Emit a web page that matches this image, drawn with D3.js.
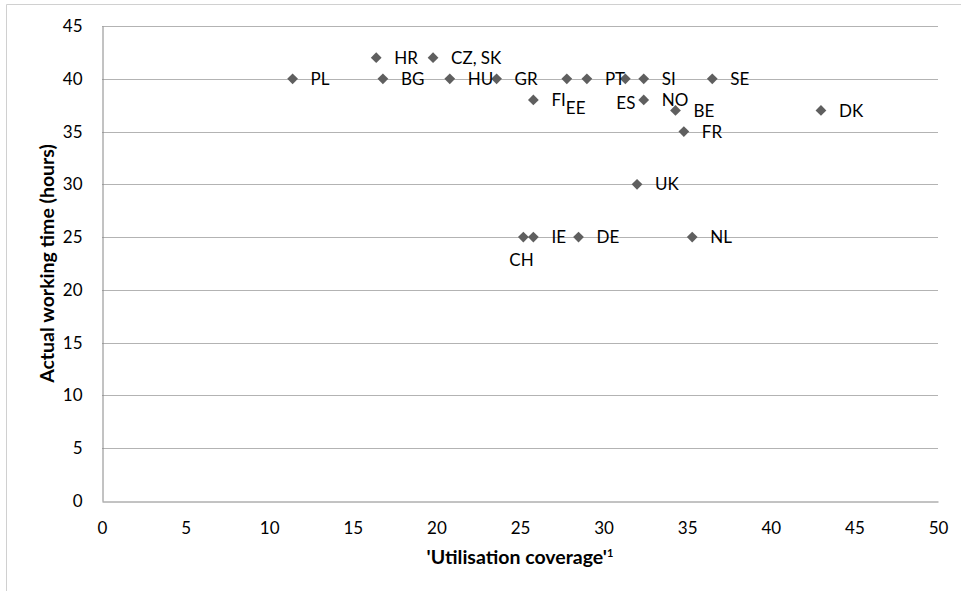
<!DOCTYPE html>
<html>
<head>
<meta charset="utf-8">
<script src="https://cdn.jsdelivr.net/npm/d3@7"></script>
<style>
  body { margin: 0; background: #fff; }
  svg { display: block; }
</style>
</head>
<body>
<svg id="chart" width="961" height="591"></svg>
<script>
// countries and their values
const countries = ["PL", "HR", "BG", "CZ, SK", "HU", "GR", "FI", "EE", "PT", "ES", "SI", "NO", "SE", "BE", "FR", "DK", "UK", "CH", "IE", "DE", "NL"];
const coverage = [11.4, 16.4, 16.8, 19.8, 20.8, 23.6, 25.8, 27.8, 29.0, 31.3, 32.4, 32.4, 36.5, 34.3, 34.8, 43.0, 32.0, 25.2, 25.8, 28.5, 35.3];
const hours = [40, 42, 40, 42, 40, 40, 38, 40, 40, 40, 40, 38, 40, 37, 35, 37, 30, 25, 25, 25, 25];
const xTicks = [0, 5, 10, 15, 20, 25, 30, 35, 40, 45, 50];
const yTicks = [0, 5, 10, 15, 20, 25, 30, 35, 40, 45];

// labels that were moved away from the default spot
const labelNudge = { "EE": [-1, 29], "ES": [-9, 24], "CH": [-14, 23] };

const FONT = "Lato, sans-serif";

const svg = d3.select("#chart");
const margin = { top: 26, right: 23, bottom: 90, left: 102 };
const width = 961 - margin.left - margin.right;
const height = 591 - margin.top - margin.bottom;

// outer chart border (cut off on right/bottom)
svg.append("path")
  .attr("d", "M6.5,600 V4.5 H970")
  .attr("fill", "none")
  .attr("stroke", "#d0d0d0")
  .attr("stroke-width", 1);

const chart = svg.append("g")
  .attr("transform", `translate(${margin.left}, ${margin.top})`);

const xScale = d3.scaleLinear().domain([0, 50]).range([0, width]);
const yScale = d3.scaleLinear().domain([0, 45]).range([height, 0]);

// gridlines
chart.append("g")
  .selectAll("line")
  .data(yTicks.filter((d) => d > 0))
  .enter()
  .append("line")
  .attr("x1", 0)
  .attr("x2", width)
  .attr("y1", (d) => Math.round(yScale(d)) + 0.5)
  .attr("y2", (d) => Math.round(yScale(d)) + 0.5)
  .attr("stroke", "#b3b3b3");

// x axis
const xAxis = chart.append("g")
  .attr("transform", `translate(0, ${Math.round(height) + 0.5})`)
  .call(d3.axisBottom(xScale).tickValues(xTicks).tickSize(0).tickPadding(20))
  .attr("font-family", FONT)
  .attr("font-size", 17);
xAxis.select(".domain").attr("stroke", "#868686");
xAxis.selectAll(".tick text").attr("fill", "#000");

xAxis.append("text")
  .attr("x", width / 2)
  .attr("y", 62)
  .attr("fill", "black")
  .attr("font-size", 19.5)
  .attr("font-weight", "bold")
  .style("text-anchor", "middle")
  .text("'Utilisation coverage'")
  .append("tspan")
  .attr("dy", -7)
  .attr("font-size", 11)
  .text("1");

// y axis
const yAxis = chart.append("g")
  .attr("transform", "translate(0.5, 0)")
  .call(d3.axisLeft(yScale).tickValues(yTicks).tickSize(0).tickPadding(20))
  .attr("font-family", FONT)
  .attr("font-size", 17);
yAxis.select(".domain").attr("stroke", "#868686");
yAxis.selectAll(".tick text").attr("fill", "#000");

yAxis.append("text")
  .attr("transform", "rotate(-90)")
  .attr("x", -height / 2)
  .attr("y", -49)
  .attr("fill", "black")
  .attr("font-size", 19.5)
  .attr("font-weight", "bold")
  .style("text-anchor", "middle")
  .text("Actual working time (hours)");

// points
const points = countries.map((c, i) => ({ name: c, x: coverage[i], y: hours[i] }));

chart.append("g")
  .selectAll("path")
  .data(points)
  .enter()
  .append("path")
  .attr("d", d3.symbol().type(d3.symbolSquare).size(58))
  .attr("transform", (d) => `translate(${xScale(d.x)}, ${yScale(d.y)}) rotate(45)`)
  .attr("fill", "#5f5f5f");

// data labels
chart.append("g")
  .attr("font-family", FONT)
  .attr("font-size", 17)
  .selectAll("text")
  .data(points)
  .enter()
  .append("text")
  .attr("x", (d) => xScale(d.x) + (labelNudge[d.name] ? labelNudge[d.name][0] : 18))
  .attr("y", (d) => yScale(d.y) + (labelNudge[d.name] ? labelNudge[d.name][1] : 0))
  .attr("dy", "0.36em")
  .attr("fill", "#000")
  .text((d) => d.name);
</script>
</body>
</html>
